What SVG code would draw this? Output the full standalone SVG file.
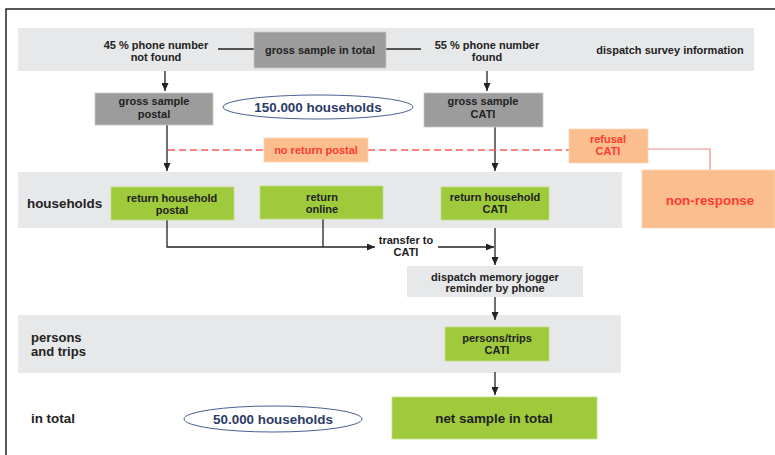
<svg xmlns="http://www.w3.org/2000/svg" width="775" height="455" viewBox="0 0 775 455">
<style>
text{font-family:"Liberation Sans",Arial,sans-serif;font-weight:bold;fill:#222;text-anchor:middle}
.s{font-size:11px}
.b{font-size:13.4px}
.l{text-anchor:start}
.band{fill:#e7e8e9}
.dg{fill:#9c9c9c;stroke:#c8c8c8;stroke-width:0.8}
.gr{fill:#9fca3c;stroke:#c3df85;stroke-width:0.8}
.or{fill:#fbbf8f;stroke:#fcd6b4;stroke-width:0.8}
.red{fill:#ff3b30}
.blue{fill:#2b3a68}
.ell{fill:#fff;stroke:#4a5f96;stroke-width:1}
.c{fill:none;stroke:#222;stroke-width:1.3}
</style>
<defs>
<marker id="ah" markerUnits="userSpaceOnUse" markerWidth="8" markerHeight="7" refX="8" refY="3.5" orient="auto">
<path d="M0,0 L8,3.5 L0,7 z" fill="#222"/>
</marker>
</defs>
<rect width="775" height="455" fill="#fff"/>
<path d="M6,455 V9 H775" fill="none" stroke="#222" stroke-width="1.5"/>
<g id="bands">
<rect class="band" x="18" y="28" width="736" height="43"/>
<rect class="band" x="18" y="172" width="604" height="56"/>
<rect class="band" x="18" y="315" width="603" height="58"/>
</g>
<g id="connectors">
<line class="c" x1="218" y1="49" x2="255" y2="49"/>
<line class="c" x1="386" y1="49" x2="421" y2="49"/>
<line class="c" x1="165" y1="71" x2="165" y2="91" marker-end="url(#ah)"/>
<line class="c" x1="487" y1="71" x2="487" y2="91" marker-end="url(#ah)"/>
<line class="c" x1="167" y1="125" x2="167" y2="171" marker-end="url(#ah)"/>
<line class="c" x1="495" y1="127" x2="495" y2="171" marker-end="url(#ah)"/>
<path d="M168,150 H264 M368,150 H569" fill="none" stroke="#ff5a5a" stroke-width="1.5" stroke-dasharray="7 4"/>
<path d="M648,149 H710 V170" fill="none" stroke="#f28a8a" stroke-width="1.2"/>
<path class="c" d="M167,220 V247 H375" marker-end="url(#ah)"/>
<line class="c" x1="323" y1="219" x2="323" y2="247"/>
<line class="c" x1="438" y1="247" x2="494" y2="247" marker-end="url(#ah)"/>
<line class="c" x1="495" y1="228" x2="495" y2="265" marker-end="url(#ah)"/>
<line class="c" x1="495" y1="297" x2="495" y2="320" marker-end="url(#ah)"/>
<line class="c" x1="495" y1="372" x2="495" y2="395" marker-end="url(#ah)"/>
</g>
<g id="not-found"><text class="s" x="156" y="49">45 % phone number</text><text class="s" x="156" y="61">not found</text></g>
<g id="gross-total"><rect class="dg" x="254" y="32" width="132" height="36"/><text class="s" x="320" y="54">gross sample in total</text></g>
<g id="found"><text class="s" x="487" y="49">55 % phone number</text><text class="s" x="487" y="61">found</text></g>
<g id="dispatch-info"><text class="s" x="670" y="54">dispatch survey information</text></g>
<g id="gross-postal"><rect class="dg" x="95" y="93" width="118" height="32"/><text class="s" x="154" y="105">gross sample</text><text class="s" x="154" y="118">postal</text></g>
<g id="households-150"><ellipse class="ell" cx="318" cy="107" rx="95" ry="12"/><text class="b blue" x="318" y="112">150.000 households</text></g>
<g id="gross-cati"><rect class="dg" x="424" y="93" width="119" height="34"/><text class="s" x="483" y="105">gross sample</text><text class="s" x="483" y="118">CATI</text></g>
<g id="no-return-postal"><rect class="or" x="264" y="138" width="104" height="24"/><text class="s red" x="316" y="154">no return postal</text></g>
<g id="refusal-cati"><rect class="or" x="569" y="129" width="79" height="34"/><text class="s red" x="608" y="143">refusal</text><text class="s red" x="608" y="155">CATI</text></g>
<g id="non-response"><rect class="or" x="642" y="170" width="133" height="58"/><text class="b red" x="710" y="205">non-response</text></g>
<g id="households-label"><text class="b l" x="27" y="208">households</text></g>
<g id="return-postal"><rect class="gr" x="111" y="187" width="123" height="33"/><text class="s" x="172" y="202">return household</text><text class="s" x="172" y="214">postal</text></g>
<g id="return-online"><rect class="gr" x="260" y="186" width="123" height="33"/><text class="s" x="322" y="201">return</text><text class="s" x="322" y="213">online</text></g>
<g id="return-cati"><rect class="gr" x="441" y="187" width="108" height="33"/><text class="s" x="495" y="201">return household</text><text class="s" x="495" y="213">CATI</text></g>
<g id="transfer"><text class="s" x="406" y="244">transfer to</text><text class="s" x="406" y="256">CATI</text></g>
<g id="memory-jogger"><rect class="band" x="407" y="266" width="176" height="31"/><text class="s" x="495" y="281">dispatch memory jogger</text><text class="s" x="495" y="292">reminder by phone</text></g>
<g id="persons-label"><text class="l" style="font-size:13px" x="31" y="342">persons</text><text class="l" style="font-size:13px" x="31" y="356">and trips</text></g>
<g id="persons-cati"><rect class="gr" x="445" y="327" width="104" height="34"/><text class="s" x="497" y="342">persons/trips</text><text class="s" x="497" y="354">CATI</text></g>
<g id="in-total-label"><text class="b l" x="31" y="423">in total</text></g>
<g id="households-50"><ellipse class="ell" cx="273" cy="419" rx="89" ry="13"/><text class="b blue" x="273" y="424">50.000 households</text></g>
<g id="net-sample"><rect class="gr" x="392" y="397" width="205" height="42"/><text class="b" x="494" y="423">net sample in total</text></g>
</svg>
